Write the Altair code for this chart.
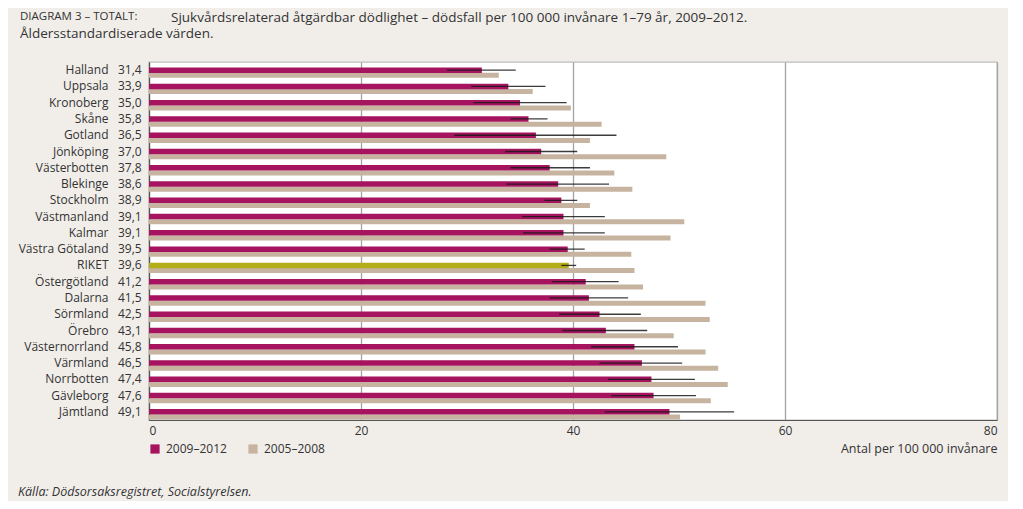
import altair as alt
import pandas as pd

regions = ["Halland", "Uppsala", "Kronoberg", "Skåne", "Gotland", "Jönköping",
           "Västerbotten", "Blekinge", "Stockholm", "Västmanland", "Kalmar",
           "Västra Götaland", "RIKET", "Östergötland", "Dalarna", "Sörmland",
           "Örebro", "Västernorrland", "Värmland", "Norrbotten", "Gävleborg", "Jämtland"]
v_2009_2012 = [31.4, 33.9, 35.0, 35.8, 36.5, 37.0, 37.8, 38.6, 38.9, 39.1, 39.1,
               39.5, 39.6, 41.2, 41.5, 42.5, 43.1, 45.8, 46.5, 47.4, 47.6, 49.1]
v_2005_2008 = [33.0, 36.2, 39.8, 42.7, 41.6, 48.8, 43.9, 45.6, 41.6, 50.5, 49.2,
               45.5, 45.8, 46.6, 52.5, 52.9, 49.5, 52.5, 53.7, 54.6, 53.0, 50.1]
ci_low = [28.1, 30.4, 30.6, 34.1, 28.8, 33.6, 34.1, 33.7, 37.3, 35.2, 35.3,
          37.8, 38.9, 38.0, 37.8, 38.7, 39.0, 41.7, 42.5, 43.3, 43.6, 43.0]
ci_high = [34.6, 37.4, 39.4, 37.6, 44.1, 40.4, 41.6, 43.4, 40.4, 43.0, 43.0,
           41.1, 40.3, 44.3, 45.2, 46.4, 47.0, 49.9, 50.3, 51.5, 51.6, 55.2]
series_names = ["2009–2012", "2005–2008"]
x_ticks = [0, 20, 40, 60, 80]

title_prefix = "DIAGRAM 3 – TOTALT:"
title_line1 = "Sjukvårdsrelaterad åtgärdbar dödlighet – dödsfall per 100 000 invånare 1–79 år, 2009–2012."
title_line2 = "Åldersstandardiserade värden."
x_title = "Antal per 100 000 invånare"
source_text = "Källa: Dödsorsaksregistret, Socialstyrelsen."

MAGENTA = "#a6135f"
TAN = "#c6b4a0"
OLIVE = "#b3ad17"
TEXT = "#333333"
FONT = "Open Sans"

df_new = pd.DataFrame({
    "region": regions,
    "value": v_2009_2012,
    "series": series_names[0],
    "lo": ci_low,
    "hi": ci_high,
    "label": [f"{v:.1f}".replace(".", ",") for v in v_2009_2012],
})
df_old = pd.DataFrame({"region": regions, "value": v_2005_2008, "series": series_names[1]})

y_enc = alt.Y("region:N", sort=regions,
              scale=alt.Scale(paddingInner=0, paddingOuter=0),
              axis=alt.Axis(title=None, ticks=False, labelPadding=41, labelFontSize=12,
                            labelFont=FONT, labelColor=TEXT, domainColor="#555555",
                            domainWidth=1.2, grid=False))
x_scale = alt.Scale(domain=[0, 80], nice=False)
x_enc = alt.X("value:Q", scale=x_scale,
              axis=alt.Axis(values=x_ticks, title=x_title, titleAnchor="end",
                            titleFontWeight="normal", titleFontSize=12.5, titleFont=FONT,
                            titleColor=TEXT, titlePadding=6, labelFontSize=12,
                            labelFont=FONT, labelColor=TEXT, ticks=False, labelPadding=5,
                            domainColor="#555555", domainWidth=1.2,
                            grid=True, gridColor="#a3a3a3", gridWidth=1.3))

color_enc = alt.Color("series:N",
                      scale=alt.Scale(domain=series_names, range=[MAGENTA, TAN]),
                      legend=alt.Legend(orient="none", legendX=0, legendY=381,
                                        direction="horizontal", title=None,
                                        symbolType="square", symbolSize=85,
                                        symbolStrokeWidth=0, labelFontSize=12,
                                        labelFont=FONT, labelColor=TEXT,
                                        labelOffset=5, columnPadding=20))

bars_new = alt.Chart(df_new).mark_bar(height=5.5, yOffset=0).encode(
    y=y_enc, x=x_enc,
    color=alt.condition(alt.datum.region == "RIKET", alt.value(OLIVE), color_enc),
)
bars_old = alt.Chart(df_old).mark_bar(height=5, yOffset=5.2).encode(
    y=alt.Y("region:N", sort=regions), x=alt.X("value:Q", scale=x_scale),
    color=color_enc,
)
err = alt.Chart(df_new).mark_rule(color="#1a1a1a", opacity=0.85, strokeWidth=1.3, yOffset=0).encode(
    y=alt.Y("region:N", sort=regions),
    x=alt.X("lo:Q", scale=x_scale),
    x2="hi:Q",
)
vals = alt.Chart(df_new).mark_text(align="left", baseline="middle", fontSize=12,
                                   font=FONT, color=TEXT).encode(
    y=alt.Y("region:N", sort=regions),
    x=alt.value(-31),
    text="label:N",
)

def annot(text, x, y, size, style="normal", weight="normal"):
    return alt.Chart(pd.DataFrame({"t": [text]})).mark_text(
        align="left", baseline="middle", fontSize=size, font=FONT, color=TEXT,
        fontStyle=style, fontWeight=weight).encode(
        x=alt.value(x), y=alt.value(y), text="t:N")

t0 = annot(title_prefix, -129, -45, 11.5)
t1 = annot(title_line1, 22, -44.5, 13.5)
t2 = annot(title_line2, -129, -28.5, 13.5)
src = annot(source_text, -131, 430, 12.5, style="italic")

chart = alt.layer(bars_old, bars_new, err, vals, t0, t1, t2, src).properties(
    width=848, height=358,
    autosize=alt.AutoSizeParams(type="none"),
    padding={"left": 141, "top": 54, "right": 11, "bottom": 81},
).configure(
    background="#f1eeea",
).configure_view(
    fill="white", stroke="#bdbdbd", strokeWidth=1.3,
)

chart.save("out.html", embed_options={"renderer": "svg", "actions": False})
